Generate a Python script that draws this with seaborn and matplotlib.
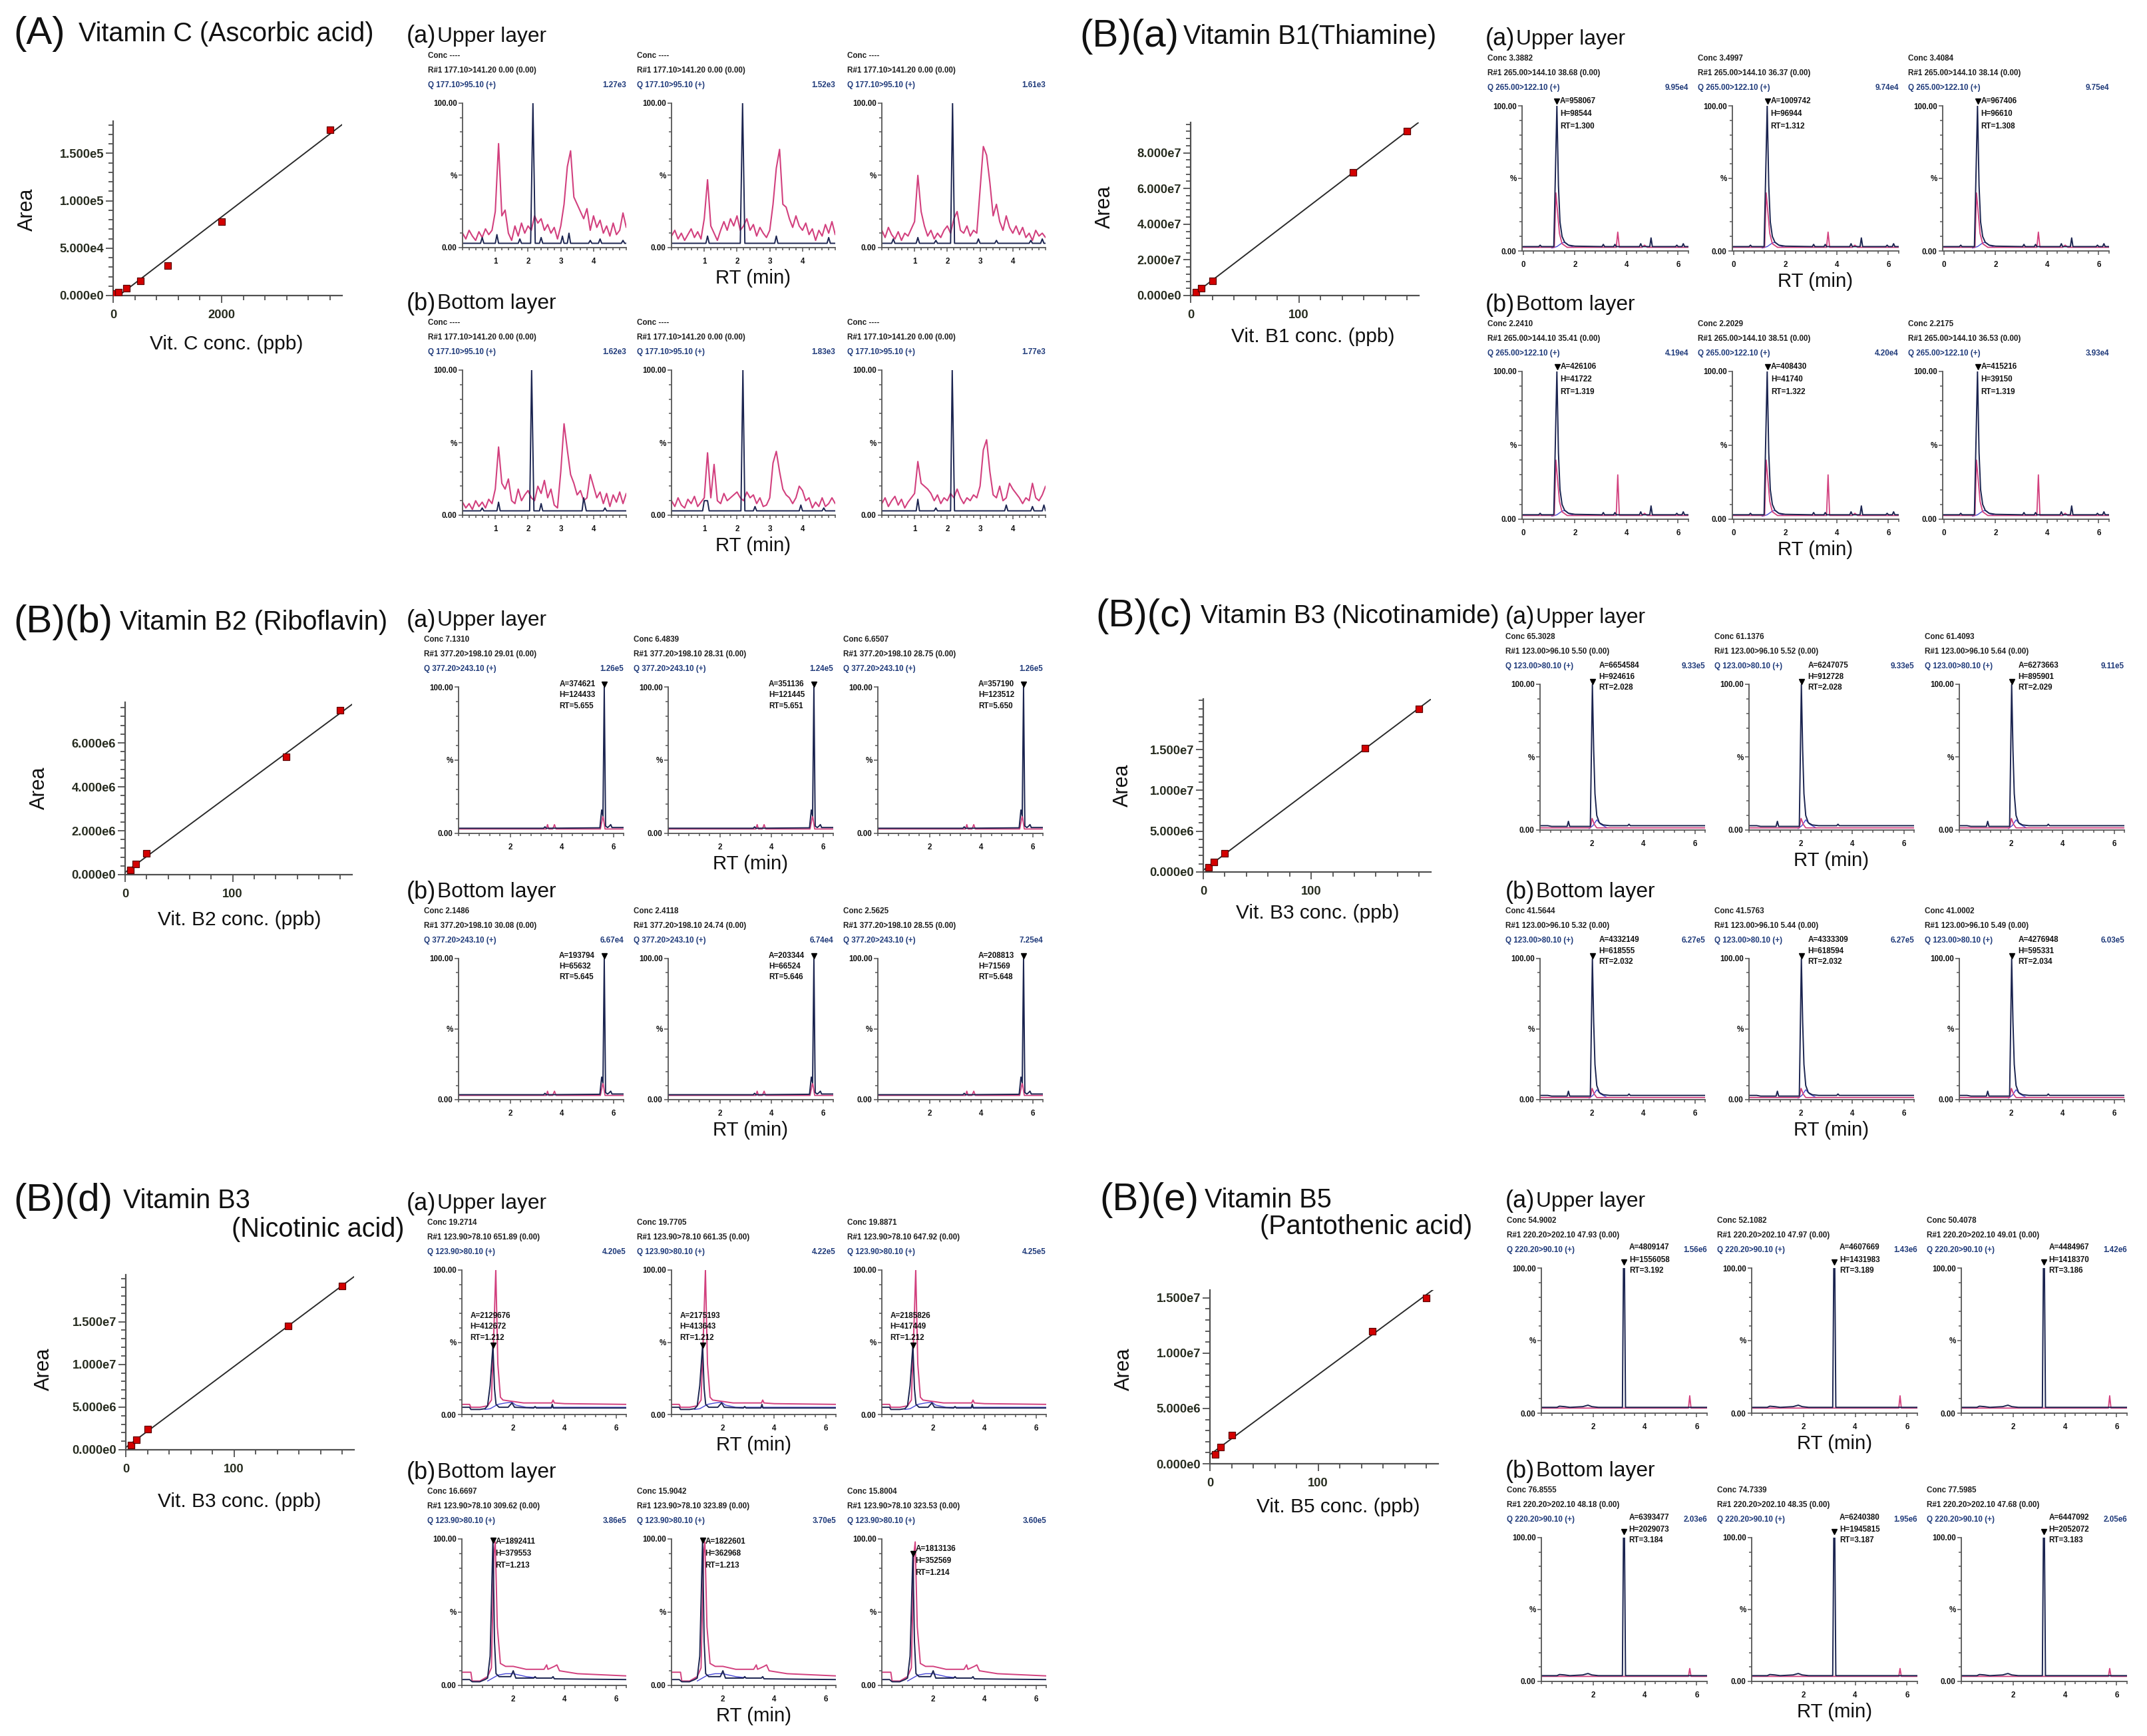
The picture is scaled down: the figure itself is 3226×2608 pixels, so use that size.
import seaborn as sns
import matplotlib
matplotlib.use("Agg")
import matplotlib.pyplot as plt
from matplotlib import font_manager
from matplotlib.ticker import MultipleLocator

# ---------------- calibration curves (standard conc. in ppb vs peak area) ----------------
VITC_PPB = [50, 100, 250, 500, 1000, 2000, 4000]
VITC_AREA = [2.0e3, 3.8e3, 7.7e3, 1.53e4, 3.19e4, 7.8e4, 1.75e5]
B1_PPB = [5, 10, 20, 150, 200]
B1_AREA = [2.0e6, 4.0e6, 8.1e6, 6.9e7, 9.2e7]
B2_PPB = [5, 10, 20, 150, 200]
B2_AREA = [2.0e5, 4.7e5, 9.6e5, 5.36e6, 7.48e6]
B3A_PPB = [5, 10, 20, 150, 200]
B3A_AREA = [6.0e5, 1.2e6, 2.3e6, 1.52e7, 2.0e7]
B3N_PPB = [5, 10, 20, 150, 200]
B3N_AREA = [5.5e5, 1.2e6, 2.4e6, 1.45e7, 1.92e7]
B5_PPB = [5, 10, 20, 150, 200]
B5_AREA = [8.4e5, 1.5e6, 2.6e6, 1.2e7, 1.5e7]

# tick labels of the calibration plots
VITC_XTICKS, VITC_XLABELS = [0, 2000], ["0", "2000"]
VITC_YTICKS = [0, 5e4, 1e5, 1.5e5]
VITC_YLABELS = ["0.000e0", "5.000e4", "1.000e5", "1.500e5"]
B_XTICKS, B_XLABELS = [0, 100], ["0", "100"]
B1_YTICKS = [0, 2e7, 4e7, 6e7, 8e7]
B1_YLABELS = ["0.000e0", "2.000e7", "4.000e7", "6.000e7", "8.000e7"]
B2_YTICKS = [0, 2e6, 4e6, 6e6]
B2_YLABELS = ["0.000e0", "2.000e6", "4.000e6", "6.000e6"]
B3_YTICKS = [0, 5e6, 1e7, 1.5e7]
B3_YLABELS = ["0.000e0", "5.000e6", "1.000e7", "1.500e7"]

# ---------------- Vitamin C chromatograms (sampled every 0.1 min, % of scale) ----------------
VITC_RT = [round(0.1 * i, 1) for i in range(51)]
VITC_UP_PINK = [
    [10, 6, 12, 8, 5, 11, 7, 13, 9, 12, 25, 72, 22, 26, 10, 5, 15, 8, 17, 10,
     15, 12, 22, 17, 20, 12, 16, 10, 14, 6, 15, 30, 56, 67, 35, 30, 25, 20, 27, 12,
     22, 14, 19, 10, 15, 8, 17, 9, 12, 24, 14],
    [8, 12, 6, 10, 5, 9, 13, 7, 11, 6, 20, 47, 15, 10, 5, 12, 18, 12, 20, 15,
     22, 12, 15, 20, 12, 16, 8, 14, 10, 7, 12, 30, 55, 68, 30, 28, 20, 14, 22, 15,
     12, 17, 9, 13, 5, 12, 8, 16, 10, 18, 9],
    [12, 7, 14, 9, 6, 11, 5, 10, 8, 13, 18, 50, 25, 15, 8, 12, 6, 10, 7, 12,
     15, 10, 20, 25, 12, 10, 15, 8, 12, 10, 40, 70, 64, 45, 22, 30, 18, 12, 22, 14,
     10, 15, 9, 14, 7, 10, 5, 12, 8, 10, 7],
]
VITC_LO_PINK = [
    [9, 5, 8, 4, 10, 6, 9, 5, 11, 8, 18, 47, 22, 18, 25, 10, 8, 18, 10, 14,
     17, 12, 10, 20, 15, 24, 12, 18, 7, 5, 30, 63, 45, 28, 22, 14, 17, 10, 12, 28,
     20, 12, 16, 8, 15, 6, 14, 9, 16, 8, 15],
    [10, 6, 12, 7, 5, 11, 8, 13, 6, 9, 12, 43, 12, 35, 10, 8, 15, 10, 12, 14,
     16, 12, 10, 16, 12, 14, 8, 12, 6, 7, 12, 36, 44, 30, 18, 14, 12, 8, 12, 20,
     17, 10, 12, 5, 9, 6, 12, 6, 8, 12, 8],
    [8, 12, 6, 10, 13, 7, 11, 5, 9, 12, 15, 37, 22, 20, 18, 15, 10, 14, 8, 12,
     10, 15, 12, 18, 12, 8, 12, 10, 14, 12, 20, 45, 52, 30, 14, 12, 20, 10, 12, 22,
     18, 15, 12, 8, 12, 10, 22, 12, 10, 14, 20],
]
VITC_UP_NAVY_RT = [
    [0, 0.55, 0.6, 0.65, 1.0, 1.05, 1.1, 1.7, 1.75, 1.8, 2.08, 2.15, 2.22, 2.35, 2.4, 2.45,
     3.0, 3.05, 3.1, 3.2, 3.25, 3.3, 3.85, 3.9, 3.95, 4.15, 4.2, 4.25, 4.85, 4.9, 4.95, 5.0],
    [0, 1.05, 1.1, 1.15, 2.1, 2.17, 2.24, 3.15, 3.2, 3.25, 4.75, 4.8, 4.85, 5.0],
    [0, 0.3, 0.35, 0.4, 1.05, 1.1, 1.15, 1.6, 1.65, 1.7, 2.1, 2.16, 2.22, 2.9, 2.95, 3.0,
     3.45, 3.5, 3.55, 4.5, 4.55, 4.6, 4.85, 4.9, 4.95, 5.0],
]
VITC_UP_NAVY = [
    [3, 3, 7, 3, 3, 9, 3, 3, 6, 3, 3, 100, 3, 3, 7, 3, 3, 8, 3, 3, 10, 3, 3, 5, 3, 3, 6, 3,
     3, 5, 3, 3],
    [3, 3, 8, 3, 3, 100, 3, 3, 8, 3, 3, 7, 3, 3],
    [3, 3, 6, 3, 3, 7, 3, 3, 5, 3, 3, 100, 3, 3, 6, 3, 3, 5, 3, 3, 5, 3, 3, 6, 3, 3],
]
VITC_LO_NAVY_RT = [
    [0, 0.55, 0.6, 0.65, 1.05, 1.1, 1.15, 2.05, 2.11, 2.18, 2.35, 2.4, 2.45, 3.65, 3.7, 3.78,
     4.3, 4.35, 4.4, 5.0],
    [0, 0.95, 1.0, 1.1, 1.15, 2.12, 2.18, 2.24, 2.5, 2.55, 2.6, 3.9, 3.95, 4.0, 4.6, 4.65,
     4.7, 5.0],
    [0, 1.05, 1.1, 1.15, 1.6, 1.65, 1.7, 2.1, 2.15, 2.22, 3.75, 3.8, 3.85, 4.55, 4.6, 4.65,
     4.9, 4.95, 5.0],
]
VITC_LO_NAVY = [
    [3, 3, 5, 3, 3, 9, 3, 3, 100, 3, 3, 8, 3, 3, 12, 3, 3, 5, 3, 3],
    [3, 3, 10, 10, 3, 3, 100, 3, 3, 6, 3, 3, 7, 3, 3, 5, 3, 3],
    [3, 3, 11, 3, 3, 5, 3, 3, 100, 3, 3, 7, 3, 3, 6, 3, 3, 7, 3],
]
VITC_CONC = ["Conc ----"] * 3
VITC_R1 = ["R#1 177.10>141.20 0.00 (0.00)"] * 3
VITC_Q = "Q 177.10>95.10 (+)"
VITC_UP_SCALE = ["1.27e3", "1.52e3", "1.61e3"]
VITC_LO_SCALE = ["1.62e3", "1.83e3", "1.77e3"]

# ---------------- Vitamin B1 (thiamine) ----------------
B1_NAVY_RT = [-0.05, 0.6, 0.65, 0.7, 1.18, 1.3, 1.36, 1.42, 1.5, 1.6, 1.75, 2.0, 3.05, 3.1,
              3.15, 3.5, 3.55, 3.6, 4.5, 4.55, 4.6, 4.9, 4.95, 5.0, 5.9, 5.95, 6.0, 6.15,
              6.2, 6.25, 6.4]
B1_NAVY = [3, 3, 4, 3, 3, 100, 45, 20, 10, 6, 4, 3.3, 3, 4.5, 3, 3, 4.5, 3, 3, 5, 3, 3, 9,
           3, 3, 4, 3, 3, 5, 3, 3]
B1_PINK_RT = [-0.05, 1.2, 1.26, 1.32, 1.4, 1.5, 1.7, 3.6, 3.66, 3.72, 4.6, 4.7, 4.8, 6.4]
B1_UP_PINK = [2.5, 2.5, 40, 28, 12, 5, 2.5, 2.5, 13, 2.5, 2.5, 4, 2.5, 2.5]
B1_LO_PINK = [2.5, 2.5, 40, 28, 12, 5, 2.5, 2.5, 30, 2.5, 2.5, 4, 2.5, 2.5]
B1_BLUE_RT = [1.1, 1.3, 1.5, 1.6, 1.75, 1.95]
B1_BLUE = [2, 3, 5.5, 6, 4, 2.5]
B1_UP_CONC = ["Conc 3.3882", "Conc 3.4997", "Conc 3.4084"]
B1_UP_R1 = ["R#1 265.00>144.10 38.68 (0.00)", "R#1 265.00>144.10 36.37 (0.00)",
            "R#1 265.00>144.10 38.14 (0.00)"]
B1_Q = "Q 265.00>122.10 (+)"
B1_UP_SCALE = ["9.95e4", "9.74e4", "9.75e4"]
B1_UP_A = ["958067", "1009742", "967406"]
B1_UP_H = ["98544", "96944", "96610"]
B1_UP_RT = ["1.300", "1.312", "1.308"]
B1_LO_CONC = ["Conc 2.2410", "Conc 2.2029", "Conc 2.2175"]
B1_LO_R1 = ["R#1 265.00>144.10 35.41 (0.00)", "R#1 265.00>144.10 38.51 (0.00)",
            "R#1 265.00>144.10 36.53 (0.00)"]
B1_LO_SCALE = ["4.19e4", "4.20e4", "3.93e4"]
B1_LO_A = ["426106", "408430", "415216"]
B1_LO_H = ["41722", "41740", "39150"]
B1_LO_RT = ["1.319", "1.322", "1.319"]

# ---------------- Vitamin B2 (riboflavin) ----------------
B2_NAVY_RT = [0, 3.3, 3.35, 3.4, 5.48, 5.55, 5.6, 5.65, 5.7, 5.78, 5.85, 5.9, 5.95, 6.4]
B2_NAVY = [3.5, 3.5, 4.5, 3.5, 3.8, 16, 12, 100, 5, 4, 5, 6, 4, 4]
B2_PINK_RT = [0, 3.4, 3.45, 3.5, 3.65, 3.72, 3.78, 5.5, 5.6, 5.68, 6.4]
B2_PINK = [3, 3, 6, 3, 3, 6, 3, 3, 12, 3, 3]
B2_UP_CONC = ["Conc 7.1310", "Conc 6.4839", "Conc 6.6507"]
B2_UP_R1 = ["R#1 377.20>198.10 29.01 (0.00)", "R#1 377.20>198.10 28.31 (0.00)",
            "R#1 377.20>198.10 28.75 (0.00)"]
B2_Q = "Q 377.20>243.10 (+)"
B2_UP_SCALE = ["1.26e5", "1.24e5", "1.26e5"]
B2_UP_A = ["374621", "351136", "357190"]
B2_UP_H = ["124433", "121445", "123512"]
B2_UP_RT = ["5.655", "5.651", "5.650"]
B2_LO_CONC = ["Conc 2.1486", "Conc 2.4118", "Conc 2.5625"]
B2_LO_R1 = ["R#1 377.20>198.10 30.08 (0.00)", "R#1 377.20>198.10 24.74 (0.00)",
            "R#1 377.20>198.10 28.55 (0.00)"]
B2_LO_SCALE = ["6.67e4", "6.74e4", "7.25e4"]
B2_LO_A = ["193794", "203344", "208813"]
B2_LO_H = ["65632", "66524", "71569"]
B2_LO_RT = ["5.645", "5.646", "5.648"]

# ---------------- Vitamin B3 (nicotinamide) ----------------
B3A_NAVY_RT = [0, 0.3, 0.45, 0.9, 1.05, 1.1, 1.15, 1.95, 2.03, 2.08, 2.13, 2.2, 2.3, 2.45,
               2.7, 3.4, 3.45, 3.5, 6.4]
B3A_NAVY = [3, 3, 2.5, 2.5, 2.5, 6, 2.5, 2.5, 100, 55, 25, 10, 5, 3.5, 3, 3, 4, 3, 3]
B3A_PINK_RT = [0, 1.95, 2.02, 2.1, 2.2, 6.4]
B3A_PINK = [1.5, 1.5, 8, 4, 1.5, 1.5]
B3A_BLUE_RT = [1.9, 2.05, 2.2, 2.35, 2.6]
B3A_BLUE = [1, 3, 7, 4, 1.5]
B3A_UP_CONC = ["Conc 65.3028", "Conc 61.1376", "Conc 61.4093"]
B3A_UP_R1 = ["R#1 123.00>96.10 5.50 (0.00)", "R#1 123.00>96.10 5.52 (0.00)",
             "R#1 123.00>96.10 5.64 (0.00)"]
B3A_Q = "Q 123.00>80.10 (+)"
B3A_UP_SCALE = ["9.33e5", "9.33e5", "9.11e5"]
B3A_UP_A = ["6654584", "6247075", "6273663"]
B3A_UP_H = ["924616", "912728", "895901"]
B3A_UP_RT = ["2.028", "2.028", "2.029"]
B3A_LO_CONC = ["Conc 41.5644", "Conc 41.5763", "Conc 41.0002"]
B3A_LO_R1 = ["R#1 123.00>96.10 5.32 (0.00)", "R#1 123.00>96.10 5.44 (0.00)",
             "R#1 123.00>96.10 5.49 (0.00)"]
B3A_LO_SCALE = ["6.27e5", "6.27e5", "6.03e5"]
B3A_LO_A = ["4332149", "4333309", "4276948"]
B3A_LO_H = ["618555", "618594", "595331"]
B3A_LO_RT = ["2.032", "2.032", "2.034"]

# ---------------- Vitamin B3 (nicotinic acid) ----------------
B3N_UP_NAVY_RT = [0, 0.3, 0.35, 0.7, 0.9, 1.0, 1.1, 1.21, 1.27, 1.33, 1.45, 1.8, 1.95, 2.05,
                  2.8, 2.85, 2.9, 3.48, 3.52, 3.56, 6.4]
B3N_UP_NAVY = [5, 5, 3.5, 3.5, 4, 6, 20, 48, 18, 7, 5, 5, 8, 5, 4.5, 5.5, 4.5, 4.5, 7, 4.5, 4.5]
B3N_UP_PINK_RT = [0, 0.3, 0.35, 0.7, 1.0, 1.15, 1.25, 1.32, 1.4, 1.5, 1.6, 2.0, 2.4, 3.0,
                  3.5, 3.55, 3.6, 4.0, 6.4]
B3N_UP_PINK = [7, 7, 5, 5, 6, 10, 60, 100, 35, 12, 10, 9, 8, 8, 8, 10, 8, 7.5, 7]
B3N_UP_BLUE_RT = [0.9, 1.1, 1.4, 1.7, 1.95, 2.1, 2.5, 3.0, 6.4]
B3N_UP_BLUE = [3.5, 4, 7, 8, 8.5, 6.5, 5, 5, 5]
B3N_LO_NAVY_RT = [0, 0.3, 0.4, 0.7, 0.9, 1.0, 1.1, 1.21, 1.27, 1.33, 1.45, 1.9, 2.0, 2.1, 2.8,
                  2.85, 2.9, 3.5, 3.55, 3.6, 6.4]
B3N_LO_NAVY = [4, 4, 2.5, 2.5, 4, 5, 20, 100, 30, 8, 6, 6, 10, 5, 5, 6, 5, 5, 6, 4.5, 4]
B3N_LO3_NAVY = [4, 4, 2.5, 2.5, 4, 5, 20, 90, 30, 8, 6, 6, 10, 5, 5, 6, 5, 5, 6, 4.5, 4]
B3N_LO_PINK_RT = [0, 0.35, 0.4, 0.7, 1.0, 1.15, 1.25, 1.3, 1.38, 1.5, 1.7, 2.0, 2.5, 3.2,
                  3.3, 3.35, 3.6, 3.7, 3.8, 4.5, 6.4]
B3N_LO_PINK = [9, 9, 3, 3, 6, 12, 90, 98, 40, 15, 13, 13, 11, 11, 14, 11, 13, 14, 10, 8, 6.5]
B3N_LO_BLUE_RT = [1.0, 1.4, 1.7, 2.0, 2.5, 3.0]
B3N_LO_BLUE = [3, 7, 8, 8, 6, 5]
B3N_UP_CONC = ["Conc 19.2714", "Conc 19.7705", "Conc 19.8871"]
B3N_UP_R1 = ["R#1 123.90>78.10 651.89 (0.00)", "R#1 123.90>78.10 661.35 (0.00)",
             "R#1 123.90>78.10 647.92 (0.00)"]
B3N_Q = "Q 123.90>80.10 (+)"
B3N_UP_SCALE = ["4.20e5", "4.22e5", "4.25e5"]
B3N_UP_A = ["2129676", "2175193", "2185826"]
B3N_UP_H = ["412672", "413643", "417449"]
B3N_UP_RT = ["1.212", "1.212", "1.212"]
B3N_LO_CONC = ["Conc 16.6697", "Conc 15.9042", "Conc 15.8004"]
B3N_LO_R1 = ["R#1 123.90>78.10 309.62 (0.00)", "R#1 123.90>78.10 323.89 (0.00)",
             "R#1 123.90>78.10 323.53 (0.00)"]
B3N_LO_SCALE = ["3.86e5", "3.70e5", "3.60e5"]
B3N_LO_A = ["1892411", "1822601", "1813136"]
B3N_LO_H = ["379553", "362968", "352569"]
B3N_LO_RT = ["1.213", "1.213", "1.214"]

# ---------------- Vitamin B5 (pantothenic acid) ----------------
B5_NAVY_RT = [0, 0.6, 0.7, 0.9, 1.1, 1.6, 1.8, 1.95, 2.2, 3.13, 3.17, 3.21, 3.25, 6.4]
B5_NAVY = [4, 4, 4.8, 4.5, 4, 4.5, 5.5, 4.5, 4, 4, 100, 100, 4, 4]
B5_PINK_RT = [0, 5.68, 5.73, 5.78, 6.4]
B5_UP_PINK = [3.5, 3.5, 12, 3.5, 3.5]
B5_LO_PINK = [3.5, 3.5, 9, 3.5, 3.5]
B5_UP_CONC = ["Conc 54.9002", "Conc 52.1082", "Conc 50.4078"]
B5_UP_R1 = ["R#1 220.20>202.10 47.93 (0.00)", "R#1 220.20>202.10 47.97 (0.00)",
            "R#1 220.20>202.10 49.01 (0.00)"]
B5_Q = "Q 220.20>90.10 (+)"
B5_UP_SCALE = ["1.56e6", "1.43e6", "1.42e6"]
B5_UP_A = ["4809147", "4607669", "4484967"]
B5_UP_H = ["1556058", "1431983", "1418370"]
B5_UP_RT = ["3.192", "3.189", "3.186"]
B5_LO_CONC = ["Conc 76.8555", "Conc 74.7339", "Conc 77.5985"]
B5_LO_R1 = ["R#1 220.20>202.10 48.18 (0.00)", "R#1 220.20>202.10 48.35 (0.00)",
            "R#1 220.20>202.10 47.68 (0.00)"]
B5_LO_SCALE = ["2.03e6", "1.95e6", "2.05e6"]
B5_LO_A = ["6393477", "6240380", "6447092"]
B5_LO_H = ["2029073", "1945815", "2052072"]
B5_LO_RT = ["3.184", "3.187", "3.183"]

# ---------------- style ----------------
sns.set_theme(style="ticks")
plt.rcParams["font.family"] = ["Liberation Sans", "DejaVu Sans"]

_names = {f.name for f in font_manager.fontManager.ttflist}
if "Liberation Sans Narrow" in _names:
    NARROW, NS = "Liberation Sans Narrow", 1.0
else:
    NARROW, NS = "Liberation Sans", 0.88

PINK = "#d2407e"
NAVY = "#1b2450"
BLUE = "#4646d6"
QBLUE = "#1f3a7a"
DARK = "#1e1e1e"
SMALL = 9.5 * NS

W, H = 3226, 2608
fig = plt.figure(figsize=(W / 100, H / 100), dpi=100)


def px_axes(left, top, width, height):
    return fig.add_axes([left / W, 1 - (top + height) / H, width / W, height / H])


def px_text(x, y, s, size, ha="left", va="center", family="Liberation Sans", **kw):
    fig.text(x / W, 1 - y / H, s, fontsize=size, ha=ha, va=va, family=family,
             color=kw.pop("color", "#111111"), **kw)


def calib(box, ppb, area, xlim, ylim, xticks, xlabels, xminor, yticks, ylabels, yminor,
          area_pos, xlab, xlab_pos):
    left, right, top, bottom = box
    ax = px_axes(left, top, right - left, bottom - top)
    ax.set_xlim(*xlim)
    ax.set_ylim(*ylim)
    sns.regplot(x=ppb, y=area, ax=ax, ci=None, truncate=False, marker="s",
                scatter_kws=dict(s=60, color="#d40000", edgecolors="#5c0000",
                                 linewidths=0.9, alpha=1, zorder=3),
                line_kws=dict(color="#2a2a2a", lw=1.4, zorder=2))
    ax.set_xlim(*xlim)
    ax.set_ylim(*ylim)
    ax.set_xlabel("")
    ax.set_ylabel("")
    sns.despine(ax=ax)
    for s in ["left", "bottom"]:
        ax.spines[s].set_color("#505050")
        ax.spines[s].set_linewidth(1.6)
    ax.set_xticks(xticks)
    ax.set_xticklabels(xlabels)
    ax.set_yticks(yticks)
    ax.set_yticklabels(ylabels)
    ax.xaxis.set_minor_locator(MultipleLocator(xminor))
    ax.yaxis.set_minor_locator(MultipleLocator(yminor))
    ax.tick_params(which="both", direction="out", color="#505050", width=1.3)
    ax.tick_params(which="major", length=8)
    ax.tick_params(which="minor", length=5)
    ax.tick_params(axis="x", pad=7)
    ax.tick_params(axis="y", pad=2)
    for lab in ax.get_xticklabels() + ax.get_yticklabels():
        lab.set_fontsize(15 * NS)
        lab.set_fontweight("bold")
        lab.set_family(NARROW)
        lab.set_color("#262b1e")
    px_text(area_pos[0], area_pos[1], "Area", 22, ha="center", rotation=90)
    px_text(xlab_pos[0], xlab_pos[1], xlab, 21.5, ha="center")


def chrom(ax, traces, xlim, xticks, xminor):
    for rt, val, color, lw in traces:
        sns.lineplot(x=rt, y=val, ax=ax, color=color, lw=lw, estimator=None,
                     sort=False, legend=False)
    ax.set_xlim(*xlim)
    ax.set_ylim(0, 100)
    ax.set_xlabel("")
    ax.set_ylabel("")
    sns.despine(ax=ax)
    for s in ["left", "bottom"]:
        ax.spines[s].set_color("#555555")
        ax.spines[s].set_linewidth(1.3)
    ax.set_yticks([0, 50, 100])
    ax.set_yticklabels(["0.00", "%", "100.00"])
    ax.yaxis.set_minor_locator(MultipleLocator(10))
    ax.set_xticks(xticks)
    ax.set_xticklabels([str(t) for t in xticks])
    ax.xaxis.set_minor_locator(MultipleLocator(xminor))
    ax.tick_params(which="both", direction="out", color="#555555", width=1.1)
    ax.tick_params(which="major", length=4)
    ax.tick_params(which="minor", length=3)
    ax.tick_params(axis="x", pad=7)
    ax.tick_params(axis="y", pad=2)
    for lab in ax.get_xticklabels() + ax.get_yticklabels():
        lab.set_fontsize(SMALL)
        lab.set_fontweight("bold")
        lab.set_family(NARROW)
        lab.set_color("#111111")


def header(ax, conc, r1, q, scale):
    kw = dict(xycoords="axes fraction", textcoords="offset pixels", fontsize=SMALL,
              fontweight="bold", family=NARROW, va="center")
    ax.annotate(conc, (0, 1), xytext=(-52, 71), ha="left", color=DARK, **kw)
    ax.annotate(r1, (0, 1), xytext=(-52, 49), ha="left", color=DARK, **kw)
    ax.annotate(q, (0, 1), xytext=(-52, 27), ha="left", color=QBLUE, **kw)
    ax.annotate(scale, (1, 1), xytext=(0, 27), ha="right", color=QBLUE, **kw)


def peak(ax, rt, tri_y, lines, tx, tys):
    ax.plot([rt], [tri_y], marker="v", ms=6, color="black", clip_on=False, zorder=5)
    for s, ty in zip(lines, tys):
        ax.text(tx, ty, s, ha="left", va="center", fontsize=SMALL, fontweight="bold",
                family=NARROW, color="#111111", clip_on=False)


def layer(lefts, width, top, bottom, traces, conc, r1, q, scale, xlim, xticks, xminor,
          lab_x, tag, name, peaks=None):
    for i, left in enumerate(lefts):
        ax = px_axes(left, top, width, bottom - top)
        chrom(ax, traces[i], xlim, xticks, xminor)
        header(ax, conc[i], r1[i], q, scale[i])
        if peaks is not None:
            peak(ax, *peaks[i])
    px_text(lefts[1] + width / 2, bottom + 46, "RT (min)", 24 * NS, ha="center", family=NARROW)
    px_text(lab_x, top - 100, tag, 26)
    px_text(lab_x + 46, top - 100, name, 26 * NS, family=NARROW)


def tri_peaks(a, h, rts, tri_y, dx, tys):
    out = []
    for i in range(3):
        rt = float(rts[i])
        out.append((rt, tri_y[i], ["A=" + a[i], "H=" + h[i], "RT=" + rts[i]], rt + dx, tys[i]))
    return out


# ================= (A) Vitamin C =================
px_text(20, 51, "(A)", 42)
px_text(118, 51, "Vitamin C (Ascorbic acid)", 28.5)
calib((170, 514, 182, 444), VITC_PPB, VITC_AREA, (0, 4220), (0, 1.84e5), VITC_XTICKS,
      VITC_XLABELS, 400, VITC_YTICKS, VITC_YLABELS, 1e4, (41, 315), "Vit. C conc. (ppb)",
      (340, 517))
up = [[(VITC_RT, VITC_UP_PINK[i], PINK, 1.5), (VITC_UP_NAVY_RT[i], VITC_UP_NAVY[i], NAVY, 1.4)]
      for i in range(3)]
lo = [[(VITC_RT, VITC_LO_PINK[i], PINK, 1.5), (VITC_LO_NAVY_RT[i], VITC_LO_NAVY[i], NAVY, 1.4)]
      for i in range(3)]
A_LEFTS = [695, 1009, 1325]
layer(A_LEFTS, 246, 155, 372, up, VITC_CONC, VITC_R1, VITC_Q, VITC_UP_SCALE, (0, 5),
      [1, 2, 3, 4], 0.2, 611, "(a)", "Upper layer")
layer(A_LEFTS, 246, 556, 774, lo, VITC_CONC, VITC_R1, VITC_Q, VITC_LO_SCALE, (0, 5),
      [1, 2, 3, 4], 0.2, 611, "(b)", "Bottom layer")

# ================= (B)(a) Vitamin B1 =================
px_text(1622, 55, "(B)(a)", 42)
px_text(1778, 55, "Vitamin B1(Thiamine)", 28.5)
calib((1789, 2132, 184, 444), B1_PPB, B1_AREA, (0, 211), (0, 9.7e7), B_XTICKS, B_XLABELS,
      20, B1_YTICKS, B1_YLABELS, 4e6, (1660, 311), "Vit. B1 conc. (ppb)", (1973, 506))
up = [[(B1_BLUE_RT, B1_BLUE, BLUE, 1.0), (B1_PINK_RT, B1_UP_PINK, PINK, 1.3),
       (B1_NAVY_RT, B1_NAVY, NAVY, 1.4)]] * 3
lo = [[(B1_BLUE_RT, B1_BLUE, BLUE, 1.0), (B1_PINK_RT, B1_LO_PINK, PINK, 1.3),
       (B1_NAVY_RT, B1_NAVY, NAVY, 1.4)]] * 3
B1_LEFTS = [2287, 2603, 2919]
tys = [[103, 94.5, 86]] * 3
layer(B1_LEFTS, 250, 159, 377, up, B1_UP_CONC, B1_UP_R1, B1_Q, B1_UP_SCALE, (-0.05, 6.4),
      [0, 2, 4, 6], 0.4, 2232, "(a)", "Upper layer",
      tri_peaks(B1_UP_A, B1_UP_H, B1_UP_RT, [103] * 3, 0.12, tys))
layer(B1_LEFTS, 250, 558, 780, lo, B1_LO_CONC, B1_LO_R1, B1_Q, B1_LO_SCALE, (-0.05, 6.4),
      [0, 2, 4, 6], 0.4, 2232, "(b)", "Bottom layer",
      tri_peaks(B1_LO_A, B1_LO_H, B1_LO_RT, [103] * 3, 0.12, tys))

# ================= (B)(b) Vitamin B2 =================
px_text(20, 935, "(B)(b)", 42)
px_text(180, 935, "Vitamin B2 (Riboflavin)", 28.5)
calib((188, 529, 1055, 1314), B2_PPB, B2_AREA, (0, 211), (0, 7.85e6), B_XTICKS, B_XLABELS,
      20, B2_YTICKS, B2_YLABELS, 4e5, (59, 1184), "Vit. B2 conc. (ppb)", (360, 1382))
tr = [[(B2_PINK_RT, B2_PINK, PINK, 1.3), (B2_NAVY_RT, B2_NAVY, NAVY, 1.4)]] * 3
B2_LEFTS = [689, 1004, 1319]
tys = [[102, 94.5, 87]] * 3
layer(B2_LEFTS, 248, 1032, 1252, tr, B2_UP_CONC, B2_UP_R1, B2_Q, B2_UP_SCALE, (0, 6.4),
      [2, 4, 6], 0.4, 611, "(a)", "Upper layer",
      tri_peaks(B2_UP_A, B2_UP_H, B2_UP_RT, [102] * 3, -1.75, tys))
layer(B2_LEFTS, 248, 1440, 1652, tr, B2_LO_CONC, B2_LO_R1, B2_Q, B2_LO_SCALE, (0, 6.4),
      [2, 4, 6], 0.4, 611, "(b)", "Bottom layer",
      tri_peaks(B2_LO_A, B2_LO_H, B2_LO_RT, [102] * 3, -1.75, tys))

# ================= (B)(c) Vitamin B3 nicotinamide =================
px_text(1646, 926, "(B)(c)", 42)
px_text(1804, 926, "Vitamin B3 (Nicotinamide)", 28)
calib((1808, 2150, 1050, 1310), B3A_PPB, B3A_AREA, (0, 211), (0, 2.12e7), B_XTICKS,
      B_XLABELS, 20, B3_YTICKS, B3_YLABELS, 1e6, (1687, 1180), "Vit. B3 conc. (ppb)",
      (1980, 1372))
tr = [[(B3A_BLUE_RT, B3A_BLUE, BLUE, 1.0), (B3A_PINK_RT, B3A_PINK, PINK, 1.3),
       (B3A_NAVY_RT, B3A_NAVY, NAVY, 1.4)]] * 3
B3A_LEFTS = [2314, 2628, 2944]
tys = [[113, 105, 97.5]] * 3
layer(B3A_LEFTS, 248, 1028, 1247, tr, B3A_UP_CONC, B3A_UP_R1, B3A_Q, B3A_UP_SCALE, (0, 6.4),
      [2, 4, 6], 0.4, 2262, "(a)", "Upper layer",
      tri_peaks(B3A_UP_A, B3A_UP_H, B3A_UP_RT, [102] * 3, 0.25, tys))
layer(B3A_LEFTS, 248, 1440, 1652, tr, B3A_LO_CONC, B3A_LO_R1, B3A_Q, B3A_LO_SCALE, (0, 6.4),
      [2, 4, 6], 0.4, 2262, "(b)", "Bottom layer",
      tri_peaks(B3A_LO_A, B3A_LO_H, B3A_LO_RT, [102] * 3, 0.25, tys))

# ================= (B)(d) Vitamin B3 nicotinic acid =================
px_text(20, 1804, "(B)(d)", 42)
px_text(185, 1804, "Vitamin B3", 28.5)
px_text(607, 1847, "(Nicotinic acid)", 28.5, ha="right")
calib((189, 532, 1915, 2178), B3N_PPB, B3N_AREA, (0, 211), (0, 2.05e7), B_XTICKS, B_XLABELS,
      20, B3_YTICKS, B3_YLABELS, 1e6, (66, 2057), "Vit. B3 conc. (ppb)", (360, 2256))
up = [[(B3N_UP_BLUE_RT, B3N_UP_BLUE, BLUE, 1.0), (B3N_UP_PINK_RT, B3N_UP_PINK, PINK, 1.4),
       (B3N_UP_NAVY_RT, B3N_UP_NAVY, NAVY, 1.4)]] * 3
lo = [[(B3N_LO_BLUE_RT, B3N_LO_BLUE, BLUE, 1.0), (B3N_LO_PINK_RT, B3N_LO_PINK, PINK, 1.4),
       (B3N_LO_NAVY_RT, nav, NAVY, 1.4)] for nav in [B3N_LO_NAVY, B3N_LO_NAVY, B3N_LO3_NAVY]]
B3N_LEFTS = [694, 1009, 1325]
layer(B3N_LEFTS, 247, 1908, 2125, up, B3N_UP_CONC, B3N_UP_R1, B3N_Q, B3N_UP_SCALE, (0, 6.4),
      [2, 4, 6], 0.4, 611, "(a)", "Upper layer",
      tri_peaks(B3N_UP_A, B3N_UP_H, B3N_UP_RT, [48] * 3, -0.89, [[68, 61, 53]] * 3))
layer(B3N_LEFTS, 247, 2312, 2532, lo, B3N_LO_CONC, B3N_LO_R1, B3N_Q, B3N_LO_SCALE, (0, 6.4),
      [2, 4, 6], 0.4, 611, "(b)", "Bottom layer",
      tri_peaks(B3N_LO_A, B3N_LO_H, B3N_LO_RT, [99, 99, 90], 0.1,
                [[98, 90, 82], [98, 90, 82], [93, 85, 77]]))

# ================= (B)(e) Vitamin B5 =================
px_text(1652, 1803, "(B)(e)", 42)
px_text(1810, 1803, "Vitamin B5", 28.5)
px_text(1893, 1843, "(Pantothenic acid)", 28.5)
calib((1818, 2161, 1938, 2199), B5_PPB, B5_AREA, (0, 211), (0, 1.57e7), B_XTICKS, B_XLABELS,
      20, B3_YTICKS, B3_YLABELS, 1e6, (1689, 2057), "Vit. B5 conc. (ppb)", (2011, 2264))
up = [[(B5_PINK_RT, B5_UP_PINK, PINK, 1.3), (B5_NAVY_RT, B5_NAVY, NAVY, 1.4)]] * 3
lo = [[(B5_PINK_RT, B5_LO_PINK, PINK, 1.3), (B5_NAVY_RT, B5_NAVY, NAVY, 1.4)]] * 3
B5_LEFTS = [2316, 2632, 2947]
tys = [[114, 105.5, 98]] * 3
layer(B5_LEFTS, 249, 1905, 2123, up, B5_UP_CONC, B5_UP_R1, B5_Q, B5_UP_SCALE, (0, 6.4),
      [2, 4, 6], 0.4, 2262, "(a)", "Upper layer",
      tri_peaks(B5_UP_A, B5_UP_H, B5_UP_RT, [104] * 3, 0.2, tys))
layer(B5_LEFTS, 249, 2310, 2526, lo, B5_LO_CONC, B5_LO_R1, B5_Q, B5_LO_SCALE, (0, 6.4),
      [2, 4, 6], 0.4, 2262, "(b)", "Bottom layer",
      tri_peaks(B5_LO_A, B5_LO_H, B5_LO_RT, [104] * 3, 0.2, tys))

fig.savefig("out.png", dpi=100, facecolor="white")
